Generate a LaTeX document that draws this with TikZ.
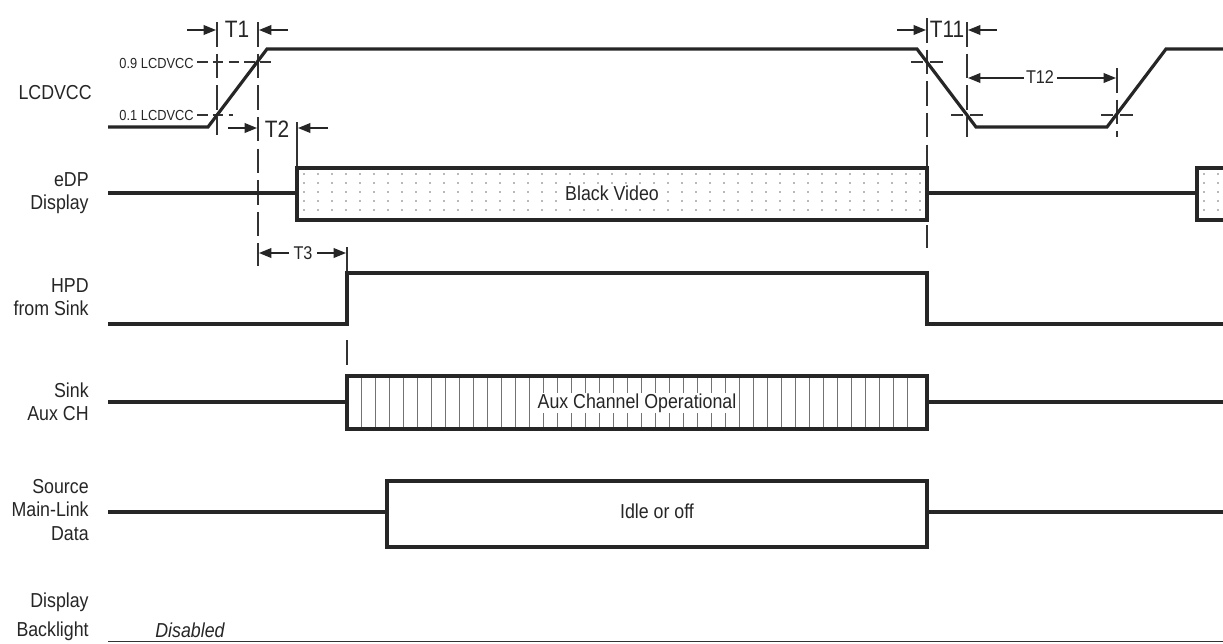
\documentclass[tikz,border=0pt]{standalone}
\usepackage{fontspec}
\newfontfamily\lbl[FakeStretch=0.88]{Liberation Sans}
\usetikzlibrary{arrows.meta}
\begin{document}
\begin{tikzpicture}[x=0.02cm,y=-0.02cm,
  wave/.style={line width=1.8pt,draw=black!85,line join=miter},
  boxline/.style={line width=2.2pt,draw=black!85},
  refline/.style={line width=0.6pt,draw=black!80,dash pattern=on 14pt off 4pt},
  thresh/.style={line width=0.6pt,draw=black!80,dash pattern=on 6pt off 3pt},
  cross/.style={line width=0.6pt,draw=black!80,dash pattern=on 7pt off 4pt},
  dim/.style={line width=0.8pt,draw=black!85,-{Triangle[length=7pt,width=5.5pt]}},
  lab/.style={font=\lbl\fontsize{11.5}{13.3}\selectfont,align=right,anchor=east,inner sep=0pt,text=black!85},
  small/.style={font=\lbl\fontsize{8.3}{10}\selectfont,anchor=east,inner sep=0pt,text=black!85},
  tbig/.style={font=\lbl\fontsize{13.5}{15}\selectfont,inner sep=0pt,text=black!85},
  tsmall/.style={font=\lbl\fontsize{10.5}{12}\selectfont,inner sep=0pt,text=black!85},
  intext/.style={font=\lbl\fontsize{11.5}{13}\selectfont,fill=white,inner sep=1pt,text=black!85}]

\useasboundingbox[fill=white] (0,0) rectangle (1223,643);

% ---------- signal labels ----------
\node[lab] (lcd) at (92,93) {LCDVCC};
\node[lab] (edp) at (89,193) {eDP\\Display};
\node[lab] (hpd) at (89,297) {HPD\\from Sink};
\node[lab] (aux) at (89,402) {Sink\\Aux CH};
\node[lab] (src) at (89,510) {Source\\Main-Link\\Data};
\node[lab] (bkl) at (89,617) {Display\\[3pt]Backlight};

% ---------- threshold labels ----------
\node[small] (v9) at (194,63) {0.9 LCDVCC};
\node[small] (v1) at (194,115) {0.1 LCDVCC};

% ---------- reference lines ----------
\draw[thresh] (197,62) -- (276,62);
\draw[thresh] (197,115) -- (233,115);
\draw[cross] (911,62) -- (943,62);
\draw[cross] (951,115) -- (983,115);
\draw[cross] (1101,115) -- (1133,115);

\draw[refline] (217,22) -- (217,135);
\draw[refline] (258,22) -- (258,266);
\draw[line width=0.6pt,black!80] (297,122) -- (297,168);
\draw[line width=0.6pt,black!80] (347,247) -- (347,273);
\draw[line width=0.6pt,black!80] (347,340) -- (347,365);
\draw[refline] (927,18) -- (927,168);
\draw[line width=0.6pt,black!80] (927,225) -- (927,248);
\draw[refline] (967,22) -- (967,137);
\draw[refline] (1117,68) -- (1117,137);

% ---------- timing arrows ----------
\draw[dim] (187,30) -- (216,30);
\node[tbig] (t1) at (237,29) {T1};
\draw[dim] (288,30) -- (259,30);

\draw[dim] (228,128) -- (257,128);
\node[tbig] (t2) at (277,129) {T2};
\draw[dim] (328,128) -- (298,128);

\draw[dim] (897,30) -- (926,30);
\node[tbig] (t11) at (947,29) {T11};
\draw[dim] (997,30) -- (968,30);

\node[tsmall] (t12) at (1040,77) {T12};
\draw[dim] (t12.west) ++(-2,1) -- (968,78);
\draw[dim] (t12.east) ++(3,1) -- (1116,78);

\node[tsmall] (t3) at (303,253) {T3};
\draw[dim] (t3.west) ++(-4,0) -- (259,253);
\draw[dim] (t3.east) ++(4,0) -- (346,253);

% ---------- LCDVCC ----------
\draw[wave] (108,127) -- (208,127) -- (267,49) -- (917,49) -- (976,127)
  -- (1107,127) -- (1166,49) -- (1224,49);

% ---------- eDP display ----------
\foreach \x in {304,318,...,920} \foreach \y in {174,183,...,216}
  \fill[black!55] (\x,\y) circle[radius=0.9];
\foreach \x in {1204,1218} \foreach \y in {174,183,...,216}
  \fill[black!55] (\x,\y) circle[radius=0.9];
\draw[wave] (108,193) -- (297,193);
\draw[boxline] (297,168) rectangle (927,220);
\draw[wave] (927,193) -- (1197,193);
\draw[boxline] (1226,168) -- (1197,168) -- (1197,220) -- (1226,220);
\node[intext] (bv) at (612,193) {Black Video};

% ---------- HPD ----------
\draw[wave] (108,324) -- (347,324) -- (347,273) -- (927,273) -- (927,324) -- (1224,324);

% ---------- Sink Aux CH ----------
\foreach \x in {361,375,...,920}
  \draw[black!55,line width=0.5pt] (\x,377) -- (\x,428);
\draw[wave] (108,402) -- (347,402);
\draw[boxline] (347,376) rectangle (927,429);
\draw[wave] (927,402) -- (1224,402);
\node[intext,inner sep=0.5pt] (ac) at (637,403) {Aux Channel Operational};

% ---------- Source Main-Link ----------
\draw[wave] (108,512) -- (387,512);
\draw[boxline] (387,481) rectangle (927,547);
\draw[wave] (927,512) -- (1224,512);
\node[intext] (io) at (657,511) {Idle or off};

% ---------- Backlight ----------
\draw[line width=0.7pt,black!80] (108,641.5) -- (1224,641.5);
\node[font=\lbl\itshape\fontsize{11.5}{13}\selectfont,text=black!85,inner sep=0pt] (dis) at (190,630) {Disabled};
\end{tikzpicture}
\end{document}
